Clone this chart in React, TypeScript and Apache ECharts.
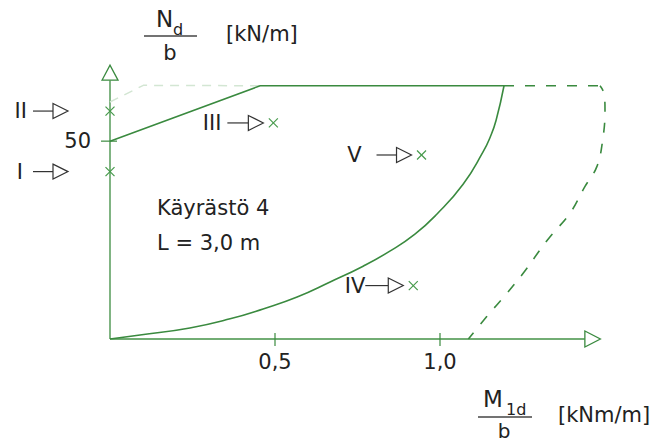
import React, { useEffect, useRef } from "react";
import * as echarts from "echarts";

// Interaction diagram: design axial force N_d/b vs. moment M_1d/b
const capacityTop: number[][] = [
  [0, 50],
  [0.455, 64],
  [1.194, 64],
];
const capacityCurve: number[][] = [
  [1.194, 64],
  [1.17, 55.3],
  [1.152, 51.0],
  [1.13, 47.2],
  [1.07, 39.1],
  [0.991, 31.6],
  [0.924, 26.5],
  [0.848, 22.2],
  [0.767, 18.4],
  [0.667, 14.4],
  [0.567, 10.6],
  [0.464, 7.6],
  [0.364, 5.1],
  [0.242, 2.8],
  [0.091, 1.0],
  [0, 0],
];
const outerTop: number[][] = [
  [1.194, 64],
  [1.485, 64],
];
const outerCurve: number[][] = [
  [1.485, 64],
  [1.497, 62],
  [1.5, 57.8],
  [1.493, 50.3],
  [1.475, 43.5],
  [1.439, 38.5],
  [1.394, 31.8],
  [1.333, 25.8],
  [1.303, 22.5],
  [1.252, 16.6],
  [1.202, 11.5],
  [1.141, 5.6],
  [1.086, 0],
];
const faintLine: number[][] = [
  [0, 59.9],
  [0.101, 64.1],
  [0.455, 64],
];

// Load cases
const caseNames = ["I", "II", "III", "IV", "V"];
const caseM = [0, 0, 0.495, 0.919, 0.944];
const caseN = [42.3, 57.6, 54.6, 13.5, 46.5];

// Axis tick labels
const xTickValues = [0.5, 1.0];
const xTickLabels = ["0,5", "1,0"];
const yTickValues = [50];
const yTickLabels = ["50"];

// Axis extents (where the arrow heads sit)
const xAxisEnd = 1.439;
const yAxisEnd = 65.4;

// Annotation arrow layout per case (pixels)
const tipGap = [42, 42, 10, 10, 10];
const shaftLen = [20, 20, 21, 23, 20];
const textGap = [10, 6, 6, 0, 15];

const GREEN = "#3a8a3f";
const FONT = '"DejaVu Sans", "Open Sans", sans-serif';
const INK = "#222";

export default function App() {
  const ref = useRef<HTMLDivElement>(null);

  useEffect(() => {
    if (!ref.current) return;
    const chart = echarts.init(ref.current, undefined, { renderer: "svg" });

    const caseData = caseNames.map((n, i) => [caseM[i], caseN[i], i]);

    chart.setOption({
      animation: false,
      backgroundColor: "#fff",
      grid: { left: 110, right: 56, top: 62, bottom: 104 },
      xAxis: {
        type: "value",
        min: 0,
        max: 1.5,
        interval: 0.5,
        axisLine: { show: false },
        axisTick: { show: false },
        splitLine: { show: false },
        axisLabel: {
          margin: 12,
          color: INK,
          fontSize: 21,
          fontFamily: FONT,
          formatter: (v: number) => {
            const k = xTickValues.findIndex((t) => Math.abs(t - v) < 1e-9);
            return k >= 0 ? xTickLabels[k] : "";
          },
        },
      },
      yAxis: {
        type: "value",
        min: 0,
        max: 70,
        interval: 50,
        axisLine: { show: false },
        axisTick: { show: false },
        splitLine: { show: false },
        axisLabel: {
          margin: 19,
          color: INK,
          fontSize: 21,
          fontFamily: FONT,
          showMaxLabel: false,
          formatter: (v: number) => {
            const k = yTickValues.findIndex((t) => Math.abs(t - v) < 1e-9);
            return k >= 0 ? yTickLabels[k] : "";
          },
        },
      },
      graphic: [
        // N_d / b [kN/m]
        { type: "text", style: { text: "N", x: 156, y: 19, font: `23px ${FONT}`, fill: INK, align: "left", verticalAlign: "middle" } },
        { type: "text", style: { text: "d", x: 173, y: 29, font: `16px ${FONT}`, fill: INK, align: "left", verticalAlign: "middle" } },
        { type: "line", shape: { x1: 144, y1: 36, x2: 197, y2: 36 }, style: { stroke: "#444", lineWidth: 1.3 } },
        { type: "text", style: { text: "b", x: 170, y: 53, font: `21px ${FONT}`, fill: INK, align: "center", verticalAlign: "middle" } },
        { type: "text", style: { text: "[kN/m]", x: 226, y: 34, font: `21px ${FONT}`, fill: INK, align: "left", verticalAlign: "middle" } },
        // M_1d / b [kNm/m]
        { type: "text", style: { text: "M", x: 483, y: 399, font: `23px ${FONT}`, fill: INK, align: "left", verticalAlign: "middle" } },
        { type: "text", style: { text: "1d", x: 506, y: 409, font: `16px ${FONT}`, fill: INK, align: "left", verticalAlign: "middle" } },
        { type: "line", shape: { x1: 478, y1: 417, x2: 532, y2: 417 }, style: { stroke: "#444", lineWidth: 1.3 } },
        { type: "text", style: { text: "b", x: 504, y: 431, font: `20px ${FONT}`, fill: INK, align: "center", verticalAlign: "middle" } },
        { type: "text", style: { text: "[kNm/m]", x: 558, y: 415, font: `21px ${FONT}`, fill: INK, align: "left", verticalAlign: "middle" } },
        // chart caption
        { type: "text", style: { text: "Käyrästö 4", x: 157, y: 208, font: `21px ${FONT}`, fill: INK, align: "left", verticalAlign: "middle" } },
        { type: "text", style: { text: "L = 3,0 m", x: 157, y: 243, font: `21px ${FONT}`, fill: INK, align: "left", verticalAlign: "middle" } },
      ],
      series: [
        {
          type: "custom",
          name: "axes",
          z: 1,
          silent: true,
          clip: false,
          data: [[0, 0]],
          renderItem: (params: any, api: any) => {
            const o = api.coord([0, 0]);
            const xe = api.coord([xAxisEnd, 0]);
            const ye = api.coord([0, yAxisEnd]);
            const children: any[] = [
              { type: "line", shape: { x1: o[0], y1: o[1], x2: xe[0], y2: xe[1] }, style: { stroke: "#72ad74", lineWidth: 2 } },
              {
                type: "polygon",
                shape: { points: [[xe[0], xe[1] - 8], [xe[0] + 15.5, xe[1]], [xe[0], xe[1] + 8]] },
                style: { fill: "#fff", stroke: GREEN, lineWidth: 1.3 },
              },
              { type: "line", shape: { x1: o[0], y1: o[1], x2: ye[0], y2: ye[1] }, style: { stroke: "#4a944e", lineWidth: 1.4 } },
              {
                type: "polygon",
                shape: { points: [[ye[0] - 8, ye[1]], [ye[0], ye[1] - 15], [ye[0] + 8, ye[1]]] },
                style: { fill: "#fff", stroke: GREEN, lineWidth: 1.3 },
              },
            ];
            xTickValues.forEach((v) => {
              const p = api.coord([v, 0]);
              children.push({ type: "line", shape: { x1: p[0], y1: p[1] - 6, x2: p[0], y2: p[1] + 7 }, style: { stroke: GREEN, lineWidth: 1.2 } });
            });
            yTickValues.forEach((v) => {
              const p = api.coord([0, v]);
              children.push({ type: "line", shape: { x1: p[0] - 9, y1: p[1], x2: p[0] + 7, y2: p[1] }, style: { stroke: GREEN, lineWidth: 1.2 } });
            });
            return { type: "group", children };
          },
        },
        {
          type: "line",
          name: "faint",
          data: faintLine,
          symbol: "none",
          z: 2,
          lineStyle: { color: "#d3e6d3", width: 1.5, type: [9, 7] },
        },
        {
          type: "line",
          name: "capacityTop",
          data: capacityTop,
          symbol: "none",
          z: 3,
          lineStyle: { color: GREEN, width: 1.6 },
        },
        {
          type: "line",
          name: "capacityCurve",
          data: capacityCurve,
          symbol: "none",
          smooth: 0.5,
          z: 3,
          lineStyle: { color: GREEN, width: 1.6 },
        },
        {
          type: "line",
          name: "outerTop",
          data: outerTop,
          symbol: "none",
          z: 3,
          lineStyle: { color: GREEN, width: 1.6, type: [10, 11] },
        },
        {
          type: "line",
          name: "outerCurve",
          data: outerCurve,
          symbol: "none",
          smooth: 0.4,
          z: 3,
          lineStyle: { color: GREEN, width: 1.6, type: [10, 11], dashOffset: 4 },
        },
        {
          type: "custom",
          name: "cases",
          z: 4,
          silent: true,
          clip: false,
          data: caseData,
          encode: { x: 0, y: 1 },
          renderItem: (params: any, api: any) => {
            const i = params.dataIndex;
            const p = api.coord([api.value(0), api.value(1)]);
            const s = 4.5;
            const tip = p[0] - tipGap[i];
            const base = tip - 15;
            const start = base - shaftLen[i];
            return {
              type: "group",
              children: [
                { type: "line", shape: { x1: p[0] - s, y1: p[1] - s, x2: p[0] + s, y2: p[1] + s }, style: { stroke: "#479a4c", lineWidth: 1.2 } },
                { type: "line", shape: { x1: p[0] - s, y1: p[1] + s, x2: p[0] + s, y2: p[1] - s }, style: { stroke: "#479a4c", lineWidth: 1.2 } },
                { type: "line", shape: { x1: start, y1: p[1], x2: base, y2: p[1] }, style: { stroke: "#333", lineWidth: 1.2 } },
                {
                  type: "polygon",
                  shape: { points: [[base, p[1] - 7.5], [tip, p[1]], [base, p[1] + 7.5]] },
                  style: { fill: "#fff", stroke: "#333", lineWidth: 1.2 },
                },
                {
                  type: "text",
                  style: {
                    text: caseNames[i],
                    x: start - textGap[i],
                    y: p[1],
                    align: "right",
                    verticalAlign: "middle",
                    font: `21px ${FONT}`,
                    fill: INK,
                  },
                },
              ],
            };
          },
        },
      ],
    });

    return () => chart.dispose();
  }, []);

  return (
    <div
      ref={ref}
      style={{ position: "fixed", left: 0, top: 0, width: 661, height: 443, background: "#fff" }}
    />
  );
}
